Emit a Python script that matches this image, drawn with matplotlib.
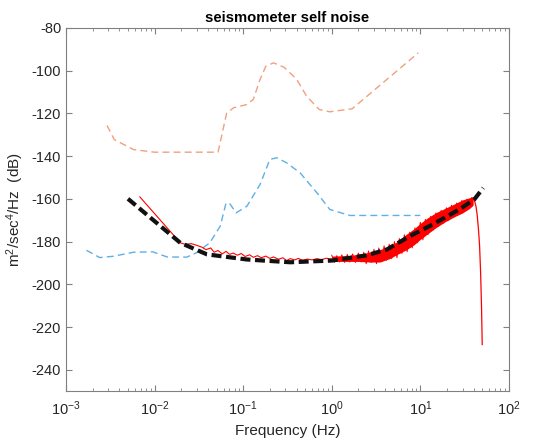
import numpy as np
import matplotlib
matplotlib.use("Agg")
import matplotlib.pyplot as plt

plt.rcParams['font.family'] = ['Liberation Sans', 'DejaVu Sans']
plt.rcParams['axes.unicode_minus'] = False
plt.rcParams['mathtext.fontset'] = 'custom'
plt.rcParams['mathtext.rm'] = 'Liberation Sans'
plt.rcParams['mathtext.it'] = 'Liberation Sans:italic'
plt.rcParams['mathtext.bf'] = 'Liberation Sans:bold'

# high noise model (orange dashed)
hi_f = [0.0029, 0.0035, 0.0058, 0.010, 0.030, 0.052, 0.065, 0.078, 0.11, 0.13,
        0.155, 0.18, 0.22, 0.29, 0.40, 0.52, 0.72, 0.95, 1.7, 9.5]
hi_db = [-125.7, -132.3, -137.0, -138.2, -138.2, -138.2, -120.0, -117.4, -115.9, -113.5,
         -104.2, -98.0, -96.4, -98.5, -104.0, -112.0, -118.2, -119.3, -117.9, -91.7]

# low noise model (blue dashed)
lo_f = [0.0017, 0.0024, 0.0034, 0.0058, 0.0095, 0.0138, 0.023, 0.0295, 0.042, 0.055,
        0.064, 0.071, 0.083, 0.11, 0.155, 0.20, 0.24, 0.31, 0.44, 0.68, 0.95, 1.6, 10.0]
lo_db = [-184.1, -187.5, -186.9, -185.0, -184.8, -187.2, -187.3, -185.3, -180.6, -172.8,
         -162.0, -162.4, -166.6, -163.5, -153.3, -141.6, -140.8, -143.2, -147.9, -157.2,
         -165.0, -167.8, -167.8]

# measured self noise (red), low frequency part
rd_f = [0.0068, 0.0195, 0.022, 0.026, 0.030, 0.034, 0.038, 0.043, 0.047, 0.052,
        0.058, 0.064, 0.070, 0.077, 0.086, 0.095, 0.105, 0.118, 0.13, 0.145,
        0.16, 0.18, 0.20, 0.22, 0.25, 0.28, 0.31, 0.34, 0.38, 0.42,
        0.47, 0.53, 0.60, 0.68, 0.77, 0.87, 1.0]
rd_db = [-159.1, -180.6, -181.3, -181.0, -181.8, -182.6, -183.8, -183.0, -185.0, -184.2,
         -185.8, -184.6, -186.0, -185.4, -186.4, -185.6, -187.0, -186.2, -187.4, -186.6,
         -187.6, -186.8, -187.9, -187.2, -188.3, -187.6, -188.9, -188.0, -188.6, -187.9,
         -188.8, -188.2, -188.6, -188.0, -188.5, -187.8, -188.3]

# noisy part of the red trace (1 - 40 Hz)
nz_f = [1.0, 1.07, 1.14, 1.22, 1.3, 1.4, 1.5, 1.6, 1.72, 1.85,
        2.0, 2.15, 2.3, 2.45, 2.6, 2.8, 3.0, 3.2, 3.4, 3.65,
        3.9, 4.15, 4.45, 4.75, 5.1, 5.45, 5.8, 6.2, 6.6, 7.1,
        7.6, 8.1, 8.7, 9.3, 10.0, 10.7, 11.4, 12.2, 13.1, 14.0,
        15.0, 16.0, 17.2, 18.4, 19.7, 21.0, 22.5, 24.0, 25.7, 27.5,
        29.4, 31.4, 33.6, 35.9, 38.0, 39.5]
nz_db = [-186.4, -189.8, -186.6, -189.6, -186.2, -189.8, -186.0, -189.6, -185.8, -189.8,
         -185.4, -189.6, -185.0, -190.4, -184.4, -189.8, -183.6, -190.4, -183.0, -189.4,
         -182.0, -188.8, -181.2, -188.0, -180.0, -187.6, -178.6, -185.6, -176.8, -184.8,
         -175.6, -183.0, -173.6, -180.6, -171.0, -179.2, -169.6, -176.8, -168.2, -174.6,
         -166.6, -173.0, -165.4, -171.4, -164.2, -170.0, -163.0, -168.6, -162.0, -167.0,
         -160.8, -165.6, -160.2, -164.2, -159.4, -160.0]

# roll-off above 40 Hz
rolloff_f = [39.5, 41.0, 42.5, 44.0, 45.5, 46.7, 48.0, 49.2, 50.0]
rolloff_db = [-160.0, -161.0, -163.5, -168.0, -175.0, -182.0, -195.0, -212.0, -228.2]

# spread of the red noise band
band_f = [1.0, 1.5, 2.0, 2.7, 3.5, 4.5, 5.5, 7.0, 8.5, 10.0,
          12.0, 15.0, 19.0, 24.0, 30.0, 36.0, 39.5]
band_lo = [-189.3, -189.3, -189.3, -189.6, -189.6, -188.0, -186.0, -183.8, -181.5, -179.0,
           -176.5, -173.5, -170.8, -168.5, -166.6, -164.5, -163.0]
band_hi = [-186.8, -186.6, -186.0, -185.0, -183.8, -182.0, -180.0, -176.5, -174.0, -171.5,
           -169.0, -166.5, -164.5, -162.5, -160.5, -159.5, -159.0]

# fitted self noise model (black dashed)
fit_f = [0.005, 0.0195, 0.039, 0.11, 0.34, 1.0, 2.45, 4.2, 7.6, 13.8, 27.5, 40.7, 51.3]
fit_db = [-160.0, -180.6, -186.0, -188.4, -189.7, -188.9, -186.5, -183.7, -177.5,
          -172.0, -165.0, -160.3, -154.9]

fig = plt.figure(figsize=(5.46, 4.41), dpi=100)
ax = fig.add_axes([0.121, 0.113, 0.811, 0.824])

red = '#ff0000'
ax.plot(hi_f, hi_db, '--', color='#f0a07e', lw=1.0, dashes=(5, 3))
ax.plot(lo_f, lo_db, '--', color='#5fb0e4', lw=1.0, dashes=(5, 3))
ax.fill_between(band_f, band_lo, band_hi, color=red, lw=0)
ax.plot(rd_f, rd_db, '-', color=red, lw=0.8)
ax.plot(nz_f, nz_db, '-', color=red, lw=0.7)
ax.plot(rolloff_f, rolloff_db, '-', color=red, lw=0.9)
ax.plot(fit_f, fit_db, '--', color='#111111', lw=3.0, dashes=(2.4, 1.1))

ax.set_xscale('log')
ax.set_xlim(1e-3, 1e2)
ax.set_ylim(-250, -80)
ax.set_yticks(np.arange(-240, -79, 20))
ax.set_xticks([1e-3, 1e-2, 1e-1, 1e0, 1e1, 1e2])

for s in ax.spines.values():
    s.set_color('#808080')
    s.set_linewidth(0.8)
ax.tick_params(which='both', direction='in', top=True, right=True, colors='#808080',
               labelcolor='#262626', labelsize=10.5)
ax.tick_params(which='major', length=4)
ax.tick_params(which='minor', length=2)
ax.tick_params(axis='x', pad=6)

ax.set_title('seismometer self noise', fontsize=10.7, fontweight='bold', pad=4)
ax.set_xlabel('Frequency (Hz)', fontsize=11, color='#262626')
ax.set_ylabel('m$^2$/sec$^4$/Hz  (dB)', fontsize=11, color='#262626')

fig.savefig('out.png', dpi=100)
